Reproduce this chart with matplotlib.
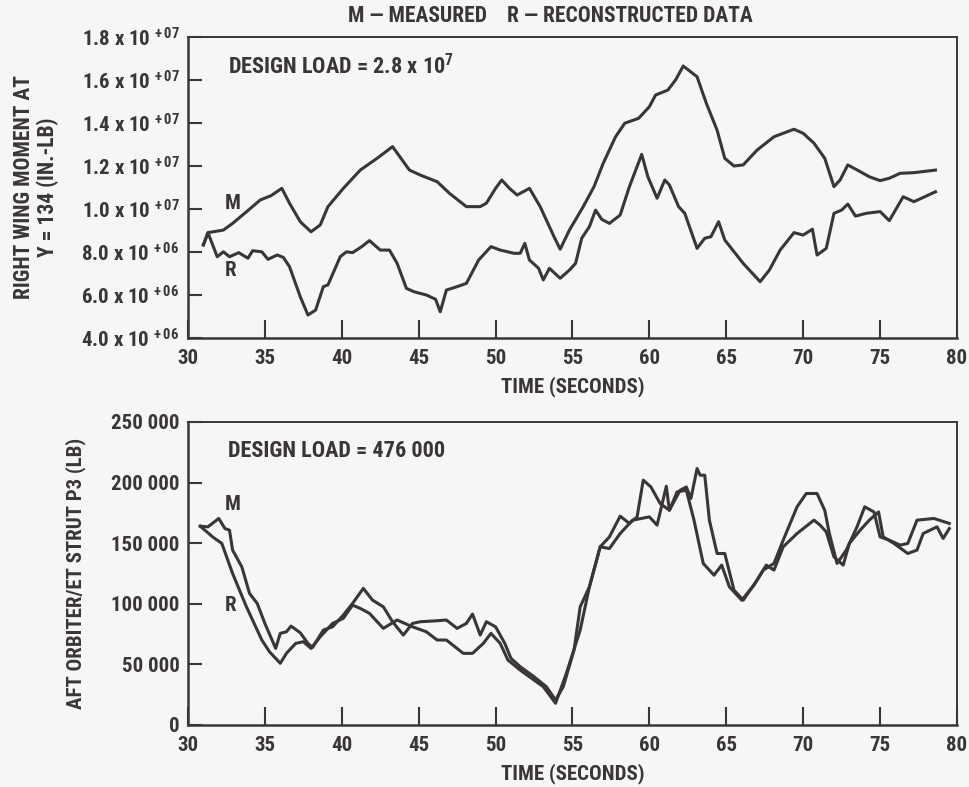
import matplotlib
matplotlib.use("Agg")
import matplotlib.pyplot as plt
from matplotlib import font_manager as fm
from matplotlib.ticker import FixedLocator, FuncFormatter

# pick a condensed face that looks like the old typeset labels
installed = {f.name for f in fm.fontManager.ttflist}
narrow = next((n for n in ['Roboto Condensed', 'Archivo Narrow', 'PT Sans Narrow',
                           'Liberation Sans Narrow', 'Barlow Condensed', 'Oswald']
               if n in installed), 'DejaVu Sans')

plt.rcParams['font.family'] = [narrow, 'DejaVu Sans']
plt.rcParams['font.weight'] = 'bold'
plt.rcParams['axes.labelweight'] = 'bold'
plt.rcParams['mathtext.fontset'] = 'custom'
plt.rcParams['mathtext.rm'] = f'{narrow}:bold'
plt.rcParams['mathtext.default'] = 'rm'

INK = '#3a3636'
PAPER = '#f6f6f4'

# ---- wing moment (in.-lb, x 1e6) ----
wing_m_t = [31.0, 31.3, 32.3, 32.9, 33.8, 34.7, 35.4, 36.1, 36.6, 37.3, 38.0, 38.6, 39.1,
            40.1, 41.2, 42.3, 43.3, 44.4, 45.1, 46.2, 47.0, 48.1, 49.0, 49.4, 50.0, 50.4,
            50.9, 51.4, 52.2, 52.9, 53.8, 54.2, 54.8, 55.7, 56.4, 57.0, 57.8, 58.4, 59.3,
            60.0, 60.4, 61.2, 61.7, 62.2, 63.1, 63.7, 64.4, 64.9, 65.5, 66.1, 67.0, 68.1,
            69.4, 70.0, 70.7, 71.4, 72.0, 72.4, 72.9, 73.7, 74.3, 75.0, 75.6, 76.3, 77.2, 78.6]
wing_m_v = [8.33, 8.90, 9.02, 9.33, 9.87, 10.42, 10.62, 10.96, 10.27, 9.41, 8.94, 9.26, 10.11,
            10.96, 11.81, 12.36, 12.90, 11.81, 11.58, 11.27, 10.73, 10.11, 10.11, 10.27, 10.96, 11.35,
            10.96, 10.65, 10.96, 10.11, 8.71, 8.13, 9.02, 10.11, 11.04, 12.13, 13.36, 13.99, 14.22,
            14.76, 15.30, 15.53, 16.00, 16.65, 16.15, 14.92, 13.67, 12.36, 12.00, 12.05, 12.74, 13.36,
            13.71, 13.52, 13.06, 12.36, 11.04, 11.35, 12.05, 11.74, 11.50, 11.32, 11.43, 11.66, 11.69, 11.81]

wing_r_t = [31.0, 31.3, 31.9, 32.3, 32.7, 33.3, 33.9, 34.2, 34.8, 35.2, 35.8, 36.2, 36.6, 37.3,
            37.8, 38.3, 38.8, 39.1, 39.9, 40.3, 40.7, 41.3, 41.8, 42.5, 43.1, 43.6, 44.2, 44.7,
            45.5, 46.1, 46.4, 46.8, 47.5, 48.1, 48.9, 49.7, 50.3, 51.2, 51.6, 51.9, 52.2, 52.8,
            53.1, 53.5, 54.2, 54.8, 55.2, 55.6, 56.1, 56.5, 56.9, 57.4, 58.1, 58.7, 59.5, 59.9,
            60.5, 61.0, 61.3, 61.9, 62.3, 63.1, 63.6, 64.0, 64.5, 64.9, 66.1, 67.2, 67.8, 68.5,
            69.4, 70.0, 70.6, 70.9, 71.5, 72.0, 72.5, 72.9, 73.4, 74.1, 75.0, 75.6, 76.5, 77.2, 78.6]
wing_r_v = [8.33, 8.90, 7.78, 8.01, 7.78, 7.97, 7.71, 8.06, 8.01, 7.66, 7.86, 7.75, 7.32, 5.92,
            5.07, 5.30, 6.39, 6.47, 7.78, 8.01, 7.97, 8.25, 8.53, 8.09, 8.09, 7.47, 6.31, 6.15,
            6.00, 5.80, 5.22, 6.23, 6.39, 6.54, 7.63, 8.25, 8.09, 7.94, 7.94, 8.40, 7.63, 7.24,
            6.70, 7.24, 6.78, 7.16, 7.47, 8.64, 9.18, 9.95, 9.52, 9.33, 9.72, 11.04, 12.54, 11.50,
            10.50, 11.35, 11.12, 10.11, 9.80, 8.17, 8.64, 8.71, 9.41, 8.56, 7.47, 6.62, 7.16, 8.09,
            8.90, 8.79, 9.06, 7.86, 8.17, 9.80, 9.95, 10.23, 9.67, 9.80, 9.88, 9.46, 10.57, 10.34, 10.80]

# ---- strut load (lb, x 1000) ----
strut_m_t = [30.8, 31.3, 32.0, 32.4, 32.7, 32.9, 33.5, 34.0, 34.5, 35.0, 35.7, 36.0, 36.4, 36.7,
             37.3, 37.8, 38.1, 38.8, 39.4, 40.1, 40.7, 41.4, 42.0, 42.7, 43.3, 44.0, 44.6, 45.1,
             46.2, 46.8, 47.5, 48.1, 48.5, 49.0, 49.4, 50.0, 50.6, 51.0, 51.6, 52.5, 53.3, 53.9,
             54.4, 55.1, 55.5, 56.1, 56.8, 57.4, 58.1, 58.9, 60.0, 60.5, 61.1, 61.3, 62.0, 62.4,
             62.7, 63.1, 63.3, 63.6, 63.9, 64.4, 64.9, 65.5, 66.1, 67.0, 67.6, 68.1, 68.7, 69.6,
             70.7, 71.1, 71.5, 72.0, 72.6, 73.0, 73.7, 74.3, 74.9, 75.2, 75.9, 76.8, 77.4, 77.8,
             78.7, 79.1, 79.5]
strut_m_v = [164.0, 163.5, 170.4, 162.1, 160.7, 144.3, 130.5, 108.6, 100.3, 83.8, 63.2, 75.6, 76.9, 81.6,
             76.1, 67.3, 64.0, 78.3, 81.0, 90.7, 100.3, 112.7, 103.0, 97.5, 85.2, 74.2, 83.8, 85.2,
             86.0, 86.6, 79.7, 83.8, 91.5, 74.2, 85.2, 81.0, 67.3, 55.0, 48.1, 39.8, 31.6, 20.6,
             31.6, 61.8, 97.5, 114.0, 147.0, 145.6, 158.0, 169.0, 171.7, 164.9, 197.0, 177.2, 193.7, 196.4,
             186.9, 211.6, 206.1, 206.1, 169.0, 141.5, 141.5, 111.3, 103.0, 119.5, 131.9, 127.8, 147.0, 158.0,
             169.0, 164.9, 159.3, 138.7, 131.9, 149.8, 160.7, 169.0, 175.8, 155.2, 149.8, 141.5, 144.3, 158.0,
             163.5, 153.9, 162.1]

strut_r_t = [30.8, 31.6, 32.2, 32.9, 33.8, 34.8, 35.3, 36.0, 36.4, 37.0, 37.5, 38.0, 38.6, 39.4,
             40.1, 40.7, 41.2, 41.8, 42.7, 43.6, 44.6, 45.5, 46.2, 46.8, 47.9, 48.5, 49.2, 49.7,
             50.3, 50.8, 51.6, 52.2, 53.1, 53.9, 54.6, 55.5, 56.1, 56.8, 57.4, 58.1, 58.7, 59.2,
             59.6, 60.1, 60.7, 61.3, 61.8, 62.4, 62.9, 63.5, 64.2, 64.7, 65.2, 66.0, 66.8, 67.4,
             68.1, 68.7, 69.6, 70.2, 70.9, 71.4, 71.7, 72.2, 72.8, 73.5, 74.0, 74.6, 75.0, 75.6,
             76.3, 76.8, 77.4, 78.5, 79.5]
strut_r_v = [164.0, 155.2, 149.8, 125.0, 97.5, 70.1, 60.4, 50.9, 59.1, 67.3, 68.7, 63.2, 72.8, 83.8,
             88.0, 98.9, 96.2, 92.1, 79.7, 86.6, 81.0, 76.9, 70.1, 70.1, 59.1, 59.1, 67.3, 75.6,
             67.3, 53.6, 45.3, 39.8, 31.6, 17.9, 42.6, 78.3, 114.0, 147.0, 155.2, 172.3, 166.3, 171.7,
             202.0, 196.4, 182.7, 177.2, 192.3, 193.7, 169.0, 133.3, 123.6, 131.9, 114.0, 103.0, 115.4, 127.8,
             133.3, 152.5, 180.0, 191.0, 191.0, 177.2, 158.0, 133.3, 144.3, 163.5, 180.0, 175.8, 155.2, 152.5,
             148.4, 149.8, 169.0, 170.4, 166.3]

x_ticks = [30, 35, 40, 45, 50, 55, 60, 65, 70, 75, 80]
wing_ticks = [4e6, 6e6, 8e6, 1.0e7, 1.2e7, 1.4e7, 1.6e7, 1.8e7]
strut_ticks = [0, 50000, 100000, 150000, 200000, 250000]


def wing_fmt(v, pos):
    exp = 7 if v >= 1e7 else 6
    return f"{v / 10**exp:.1f} x 10 $^{{+\\,{exp:02d}}}$"


def strut_fmt(v, pos):
    if v == 0:
        return "0"
    return f"{int(v // 1000)} 000"


def style_axes(ax):
    ax.set_facecolor(PAPER)
    for s in ax.spines.values():
        s.set_color(INK)
        s.set_linewidth(1.8)
    ax.spines['top'].set_linewidth(1.4)
    ax.spines['right'].set_linewidth(1.4)
    ax.xaxis.set_major_locator(FixedLocator(x_ticks))
    ax.set_xlim(30, 80)
    ax.tick_params(axis='x', direction='in', length=13, width=1.5, color=INK,
                   labelsize=15, labelcolor=INK, pad=8)
    ax.tick_params(axis='y', direction='in', length=10, width=1.5, color=INK,
                   labelsize=15, labelcolor=INK, pad=6)
    ax.set_xlabel("TIME (SECONDS)", fontsize=15, color=INK, labelpad=6)


fig = plt.figure(figsize=(9.7, 7.87), dpi=100, facecolor=PAPER)

ax1 = fig.add_axes([0.1938, 0.5705, 0.7928, 0.3825])
style_axes(ax1)
ax1.plot(wing_m_t, [v * 1e6 for v in wing_m_v], color=INK, lw=2.2, solid_joinstyle='round')
ax1.plot(wing_r_t, [v * 1e6 for v in wing_r_v], color=INK, lw=2.2, solid_joinstyle='round')
ax1.set_ylim(4e6, 1.8e7)
ax1.yaxis.set_major_locator(FixedLocator(wing_ticks))
ax1.yaxis.set_major_formatter(FuncFormatter(wing_fmt))
ax1.set_ylabel("RIGHT WING MOMENT AT\nY = 134 (IN.-LB)", fontsize=15.5, color=INK,
               linespacing=1.1, labelpad=16)
ax1.text(32.6, 1.625e7, "DESIGN LOAD = 2.8 x 10$^{7}$", fontsize=16, color=INK)
ax1.text(32.4, 1.0e7, "M", fontsize=15, color=INK)
ax1.text(32.4, 6.9e6, "R", fontsize=15, color=INK)

ax2 = fig.add_axes([0.1938, 0.0788, 0.7928, 0.385])
style_axes(ax2)
ax2.plot(strut_m_t, [v * 1000 for v in strut_m_v], color=INK, lw=2.2, solid_joinstyle='round')
ax2.plot(strut_r_t, [v * 1000 for v in strut_r_v], color=INK, lw=2.2, solid_joinstyle='round')
ax2.set_ylim(0, 250000)
ax2.yaxis.set_major_locator(FixedLocator(strut_ticks))
ax2.yaxis.set_major_formatter(FuncFormatter(strut_fmt))
ax2.set_ylabel("AFT ORBITER/ET STRUT P3 (LB)", fontsize=15, color=INK, labelpad=18)
ax2.text(32.6, 221000, "DESIGN LOAD = 476 000", fontsize=16, color=INK)
ax2.text(32.4, 177000, "M", fontsize=15, color=INK)
ax2.text(32.4, 94000, "R", fontsize=15, color=INK)

fig.text(0.567, 0.980, "M \u2014 MEASURED    R \u2014 RECONSTRUCTED DATA",
         fontsize=15.5, color=INK, ha='center', va='center')

fig.savefig("out.png", dpi=100, facecolor=PAPER)
